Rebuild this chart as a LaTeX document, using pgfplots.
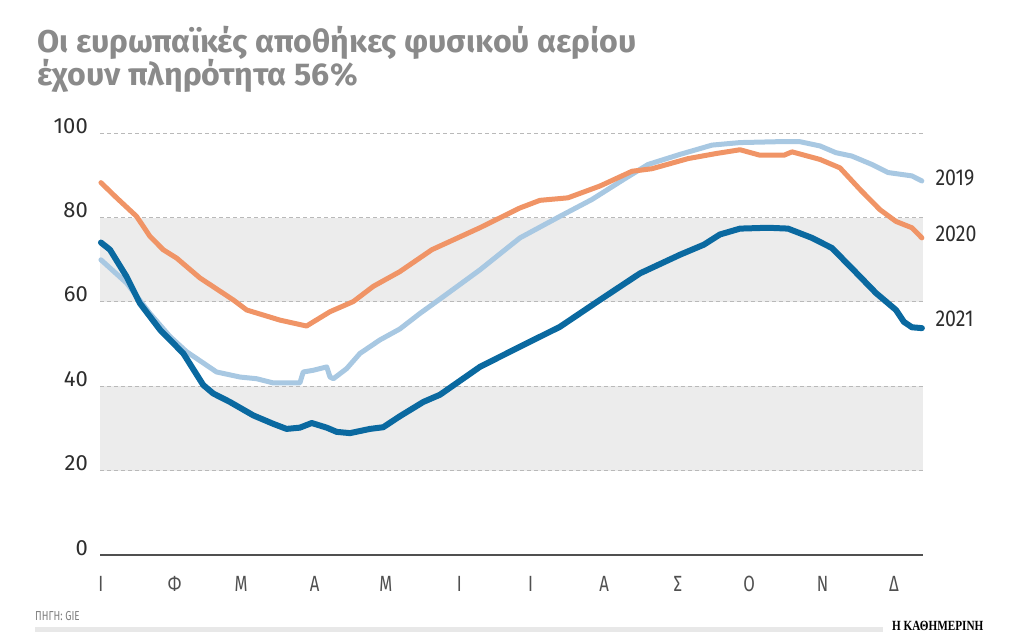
\documentclass[border=0pt]{standalone}
\usepackage{fontspec}
\usepackage{pgfplots}
\pgfplotsset{compat=1.18}
\setmainfont{Fira Sans}
\newfontfamily\titlefont[FakeStretch=1.02]{Fira Sans}
\newfontfamily\condfont[FakeStretch=0.76]{Fira Sans}
\newfontfamily\yearfont[FakeStretch=0.85]{Fira Sans}
\newfontfamily\logofont[FakeStretch=0.8]{Liberation Serif}
\definecolor{c2019}{RGB}{168,200,226}
\definecolor{c2020}{RGB}{240,148,102}
\definecolor{c2021}{RGB}{10,105,160}
\definecolor{band}{RGB}{236,236,236}
\definecolor{gridc}{RGB}{185,185,185}
\definecolor{basec}{RGB}{80,80,80}
\definecolor{titlegray}{RGB}{138,138,138}
\definecolor{tickc}{RGB}{45,45,45}
\definecolor{monthc}{RGB}{80,80,80}
\definecolor{barc}{RGB}{232,232,232}
\begin{document}
\begin{tikzpicture}
\useasboundingbox (0,0) rectangle (1024pt,641pt);
\node[anchor=base west, inner sep=0, text=titlegray, font=\titlefont\bfseries\fontsize{31.5}{31.5}\selectfont] at (37pt,588pt) {Οι ευρωπαϊκές αποθήκες φυσικού αερίου};
\node[anchor=base west, inner sep=0, text=titlegray, font=\titlefont\bfseries\fontsize{31.5}{31.5}\selectfont] at (37pt,555pt) {έχουν πληρότητα 56\%};
\begin{axis}[
  at={(100pt,86pt)}, anchor=south west,
  scale only axis, width=823.3pt, height=421.7pt,
  xmin=-0.4, xmax=346.4, ymin=0, ymax=100,
  clip=false,
  axis line style={draw=none},
  major tick length=0pt,
  ytick={0,20,40,60,80,100},
  yticklabel style={anchor=base east, inner sep=0pt, xshift=-12pt, text=tickc, font=\fontsize{22}{22}\selectfont},
  /pgf/number format/assume math mode=true,
  xtick={0,31,59,90,120,151,181,212,243,273,304,334},
  xticklabels={Ι,Φ,Μ,Α,Μ,Ι,Ι,Α,Σ,Ο,Ν,Δ},
  xticklabel style={anchor=base, inner sep=0pt, yshift=-36pt, text=monthc, font=\condfont\fontsize{22}{22}\selectfont},
]
\addplot[draw=none, fill=band] coordinates {(-0.4,20) (346.4,20) (346.4,40) (-0.4,40)} -- cycle;
\addplot[draw=none, fill=band] coordinates {(-0.4,60) (346.4,60) (346.4,80) (-0.4,80)} -- cycle;
\draw[gridc, line width=1pt, dash pattern=on 4pt off 3pt] (axis cs:-0.4,20) -- (axis cs:346.4,20);
\draw[gridc, line width=1pt, dash pattern=on 4pt off 3pt] (axis cs:-0.4,40) -- (axis cs:346.4,40);
\draw[gridc, line width=1pt, dash pattern=on 4pt off 3pt] (axis cs:-0.4,60) -- (axis cs:346.4,60);
\draw[gridc, line width=1pt, dash pattern=on 4pt off 3pt] (axis cs:-0.4,80) -- (axis cs:346.4,80);
\draw[gridc, line width=1pt, dash pattern=on 4pt off 3pt] (axis cs:-0.4,100) -- (axis cs:346.4,100);
\draw[basec, line width=1.6pt] (axis cs:-0.4,0) -- (axis cs:346.4,0);
% 2019
\addplot[c2019, line width=5pt, line cap=round, line join=round] coordinates {
(0,70.0) (10.8,64.5) (20.6,57.3) (29.1,51.8) (36.1,48.2) (44.5,45.0) (48.7,43.4) (58.6,42.2) (65.6,41.8) (72.6,40.8) (83.8,40.8) (85.2,43.4) (89.4,43.8) (95.1,44.6) (96.5,42.2) (97.9,41.8) (103.5,44.2) (109.1,47.8) (117.5,51.0) (125.9,53.6) (134.4,57.3) (142.8,60.7) (159.6,67.6) (176.5,75.2) (193.3,80.3) (206.8,84.3) (220.3,89.1) (230.4,92.6) (243.9,95.0) (257.4,97.2) (269.2,97.8) (284.4,98.0) (294.5,98.0) (302.9,97.0) (309.6,95.4) (316.3,94.6) (324.8,92.6) (331.5,90.7) (341.6,89.9) (345.8,88.7)
};
% 2020
\addplot[c2020, line width=5pt, line cap=round, line join=round] coordinates {
(0,88.3) (6.6,84.7) (15.0,80.3) (20.6,75.6) (26.2,72.4) (31.9,70.4) (41.7,65.7) (55.7,60.5) (61.4,58.1) (75.4,55.7) (86.6,54.3) (96.5,57.7) (106.3,60.1) (114.7,63.7) (125.9,67.2) (139.4,72.4) (159.6,77.6) (176.5,82.3) (184.9,84.1) (196.7,84.7) (210.2,87.5) (223.7,91.0) (232.1,91.6) (247.3,94.0) (259.1,95.2) (269.2,96.1) (277.6,94.8) (287.7,94.8) (291.1,95.6) (302.9,93.8) (311.3,91.8) (319.7,86.7) (328.1,81.9) (334.9,79.1) (341.6,77.6) (345.8,75.2)
};
% 2021
\addplot[c2021, line width=6pt, line cap=round, line join=round] coordinates {
(0,74.1) (3.8,72.4) (10.8,66.0) (16.4,59.7) (24.9,53.4) (34.7,47.8) (43.1,40.3) (47.3,38.3) (54.3,36.3) (64.2,33.1) (72.6,31.1) (78.2,29.9) (83.8,30.2) (88.8,31.3) (95.1,30.2) (99.3,29.2) (104.9,28.9) (113.3,29.9) (118.9,30.3) (125.9,32.9) (135.8,36.3) (142.8,38.0) (159.6,44.6) (176.5,49.4) (193.3,54.1) (210.2,60.5) (227.1,66.8) (243.9,71.2) (254.0,73.6) (260.7,76.0) (269.2,77.4) (281.0,77.6) (289.4,77.4) (299.5,75.2) (307.9,72.8) (316.3,68.0) (326.5,62.1) (334.9,58.1) (338.2,55.3) (341.6,54.0) (345.8,53.8)
};
\node[anchor=west, inner sep=0pt, xshift=12pt, text=tickc, font=\yearfont\fontsize{23}{23}\selectfont] at (axis cs:346.4,89.4) {2019};
\node[anchor=west, inner sep=0pt, xshift=12pt, text=tickc, font=\yearfont\fontsize{23}{23}\selectfont] at (axis cs:346.4,76.1) {2020};
\node[anchor=west, inner sep=0pt, xshift=12pt, text=tickc, font=\yearfont\fontsize{23}{23}\selectfont] at (axis cs:346.4,56.0) {2021};
\end{axis}
\node[anchor=base west, inner sep=0, text=gray, font=\condfont\fontsize{13}{13}\selectfont] at (35pt,20.3pt) {ΠΗΓΗ: GIE};
\fill[barc] (35pt,9.3pt) rectangle (883pt,14.3pt);
\node[anchor=base west, inner sep=0, text=black, font=\logofont\bfseries\fontsize{14}{14}\selectfont] at (892pt,11pt) {Η ΚΑΘΗΜΕΡΙΝΗ};
\end{tikzpicture}
\end{document}
